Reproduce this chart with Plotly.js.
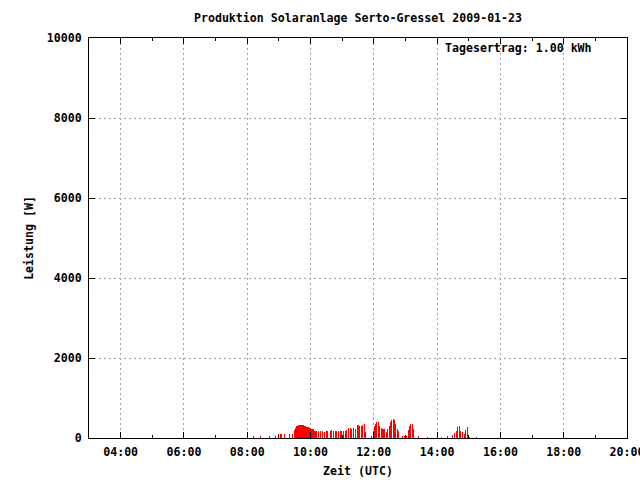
<!DOCTYPE html>
<html>
<head>
<meta charset="utf-8">
<script src="https://cdn.plot.ly/plotly-3.0.1.min.js"></script>
<style>html,body{margin:0;padding:0;background:#fff;}#chart{width:640px;height:480px;}</style>
</head>
<body>
<div id="chart"></div>
<script>
// Sample times (UTC) on 2009-01-23 and power in W
const times = [
  "08:11","08:26","08:42","08:53","08:59","09:04","09:10","09:20","09:25",
  "09:29","09:31","09:33","09:35","09:37","09:39","09:41","09:42","09:44","09:46",
  "09:48","09:50","09:52","09:54","09:56","09:58","10:00","10:01","10:03","10:05",
  "10:07","10:09","10:12","10:16","10:19","10:22","10:27","10:30","10:33","10:37",
  "10:40","10:44","10:47","10:50","10:53","10:56","10:59","11:03","11:06","11:09",
  "11:12","11:15","11:18","11:22","11:25","11:30","11:33","11:36","11:39","11:42",
  "11:44","11:55","11:59","12:01","12:04","12:06","12:09","12:11","12:14","12:16",
  "12:19","12:21","12:24","12:26","12:29","12:32","12:34","12:37","12:39","12:42",
  "12:44","12:47","12:54","12:59","13:01","13:05","13:08","13:10","13:13","13:16",
  "13:25","13:42","14:08","14:20","14:30","14:33","14:37","14:39","14:42","14:44",
  "14:48","14:51","14:54","14:57","15:01","15:15"
];
const power = [
  50,50,50,50,100,100,100,100,100,
  210,260,290,310,325,330,335,335,330,320,
  300,290,285,275,265,260,245,235,230,225,
  180,170,170,170,170,170,150,165,180,180,
  210,180,165,165,165,165,165,180,165,200,
  260,250,220,240,230,317,300,300,330,340,
  150,50,170,300,360,400,410,300,250,230,
  220,220,160,220,300,390,440,475,450,350,
  230,170,40,50,50,200,290,340,360,225,
  58,33,25,45,70,120,180,280,310,170,
  140,90,200,280,30,30
];
const day = "2009-01-23";
const titleText = "Produktion Solaranlage Serto-Gressel 2009-01-23";
const xTitle = "Zeit (UTC)";
const yTitle = "Leistung [W]";
const noteText = "Tagesertrag: 1.00 kWh";

const FONT = {family: "DejaVu Sans Mono", size: 11.6, color: "#000"};

const trace = {
  type: "bar",
  x: times.map(t => day + " " + t),
  y: power,
  width: 115000,
  marker: {color: "#ff0000", line: {width: 0}},
  hoverinfo: "skip"
};

const layout = {
  width: 640, height: 480,
  margin: {l: 89, r: 13, t: 38, b: 42, pad: 0},
  paper_bgcolor: "#fff", plot_bgcolor: "#fff",
  showlegend: false,
  bargap: 0,
  font: FONT,
  title: {text: "<b>" + titleText + "</b>", font: FONT, x: 0.5, xref: "paper", xanchor: "center",
          y: 1 - 18/480, yref: "container", yanchor: "middle"},
  xaxis: {
    type: "date",
    range: [day + " 03:00", day + " 20:00"],
    dtick: 7200000, tick0: day + " 00:00",
    tickformat: "%H:%M",
    ticks: "inside", ticklen: 6, tickcolor: "#000", tickwidth: 1,
    showline: true, linecolor: "#000", linewidth: 1, mirror: "ticks",
    showgrid: true, gridcolor: "#a0a0a0", griddash: "2px,3px", gridwidth: 1,
    zeroline: false,
    ticklabeloverflow: "allow",
    tickfont: {family: FONT.family, size: FONT.size, color: "#000", weight: "bold"},
    ticklabelstandoff: 3,
    minor: {dtick: 3600000, ticks: "inside", ticklen: 3, tickcolor: "#000", showgrid: false},
    title: {text: "<b>" + xTitle + "</b>", font: FONT, standoff: 8}
  },
  yaxis: {
    range: [0, 10000],
    dtick: 2000,
    tickformat: "d",
    ticks: "inside", ticklen: 6, tickcolor: "#000", tickwidth: 1,
    showline: true, linecolor: "#000", linewidth: 1, mirror: "ticks",
    showgrid: true, gridcolor: "#a0a0a0", griddash: "2px,3px", gridwidth: 1,
    zeroline: false,
    tickfont: {family: FONT.family, size: FONT.size, color: "#000", weight: "bold"},
    ticklabelstandoff: 4,
    title: {text: "<b>" + yTitle + "</b>", font: FONT, standoff: 10}
  },
  annotations: [{
    text: "<b>" + noteText + "</b>",
    xref: "paper", yref: "paper",
    x: (594 - 89) / 538, y: (438 - 48) / 400,
    xanchor: "right", yanchor: "middle",
    showarrow: false, font: FONT
  }]
};

Plotly.newPlot("chart", [trace], layout, {displayModeBar: false, staticPlot: true});
</script>
</body>
</html>
